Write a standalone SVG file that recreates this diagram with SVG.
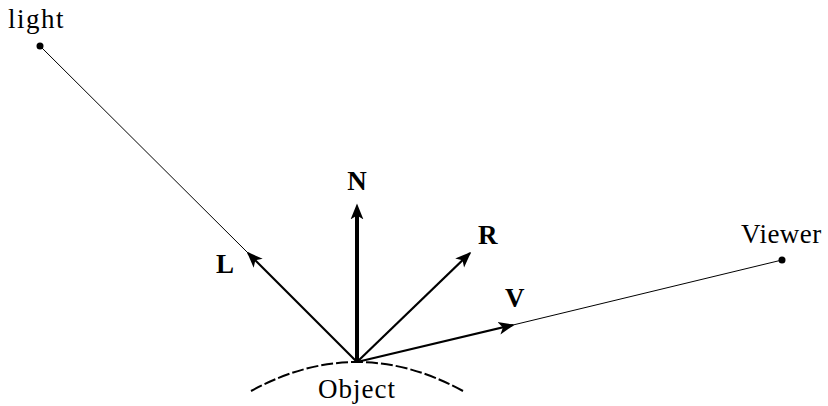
<svg xmlns="http://www.w3.org/2000/svg" width="828" height="406" viewBox="0 0 828 406">
<style>
text{font-family:"Liberation Serif","DejaVu Serif",serif;font-size:27px;fill:#000}
.b{font-weight:bold}
.thin{stroke:#000;stroke-width:1;fill:none}
.vec{stroke:#000;stroke-width:2.2;fill:none}
</style>
<defs>
<marker id="ah2" viewBox="0 0 10 10" refX="9" refY="5" markerWidth="16" markerHeight="16" markerUnits="userSpaceOnUse" orient="auto">
<path d="M0,1 L10,5 L0,9 L2.5,5 Z" fill="#000"/>
</marker>
</defs>
<g id="connectors">
<line class="thin" x1="40" y1="46" x2="248" y2="253"/>
<line class="thin" x1="513" y1="325" x2="782" y2="260"/>
<line class="vec" x1="357" y1="362" x2="248" y2="253" marker-end="url(#ah2)"/>
<line stroke="#000" stroke-width="4" x1="357" y1="362" x2="357" y2="215"/>
<line stroke="#000" stroke-width="0.1" x1="357" y1="225" x2="357" y2="205" marker-end="url(#ah2)"/>
<line class="vec" x1="357" y1="362" x2="470" y2="253" marker-end="url(#ah2)"/>
<line class="vec" x1="357" y1="362" x2="513" y2="325" marker-end="url(#ah2)"/>
</g>
<g id="light">
<circle cx="40" cy="46" r="3.5" fill="#000"/>
<text x="8" y="28" letter-spacing="1.5">light</text>
</g>
<g id="viewer">
<circle cx="782" cy="260" r="3.5" fill="#000"/>
<text x="741" y="243" letter-spacing="0.5">Viewer</text>
</g>
<g id="object">
<path d="M251,391 Q357,333 463,391" stroke="#000" stroke-width="2" fill="none" stroke-dasharray="12,3"/>
<text x="357" y="398" text-anchor="middle" letter-spacing="1">Object</text>
</g>
<g id="labels">
<text class="b" x="357" y="190" text-anchor="middle">N</text>
<text class="b" x="478" y="244">R</text>
<text class="b" x="216" y="273">L</text>
<text class="b" x="505" y="307">V</text>
</g>
</svg>
